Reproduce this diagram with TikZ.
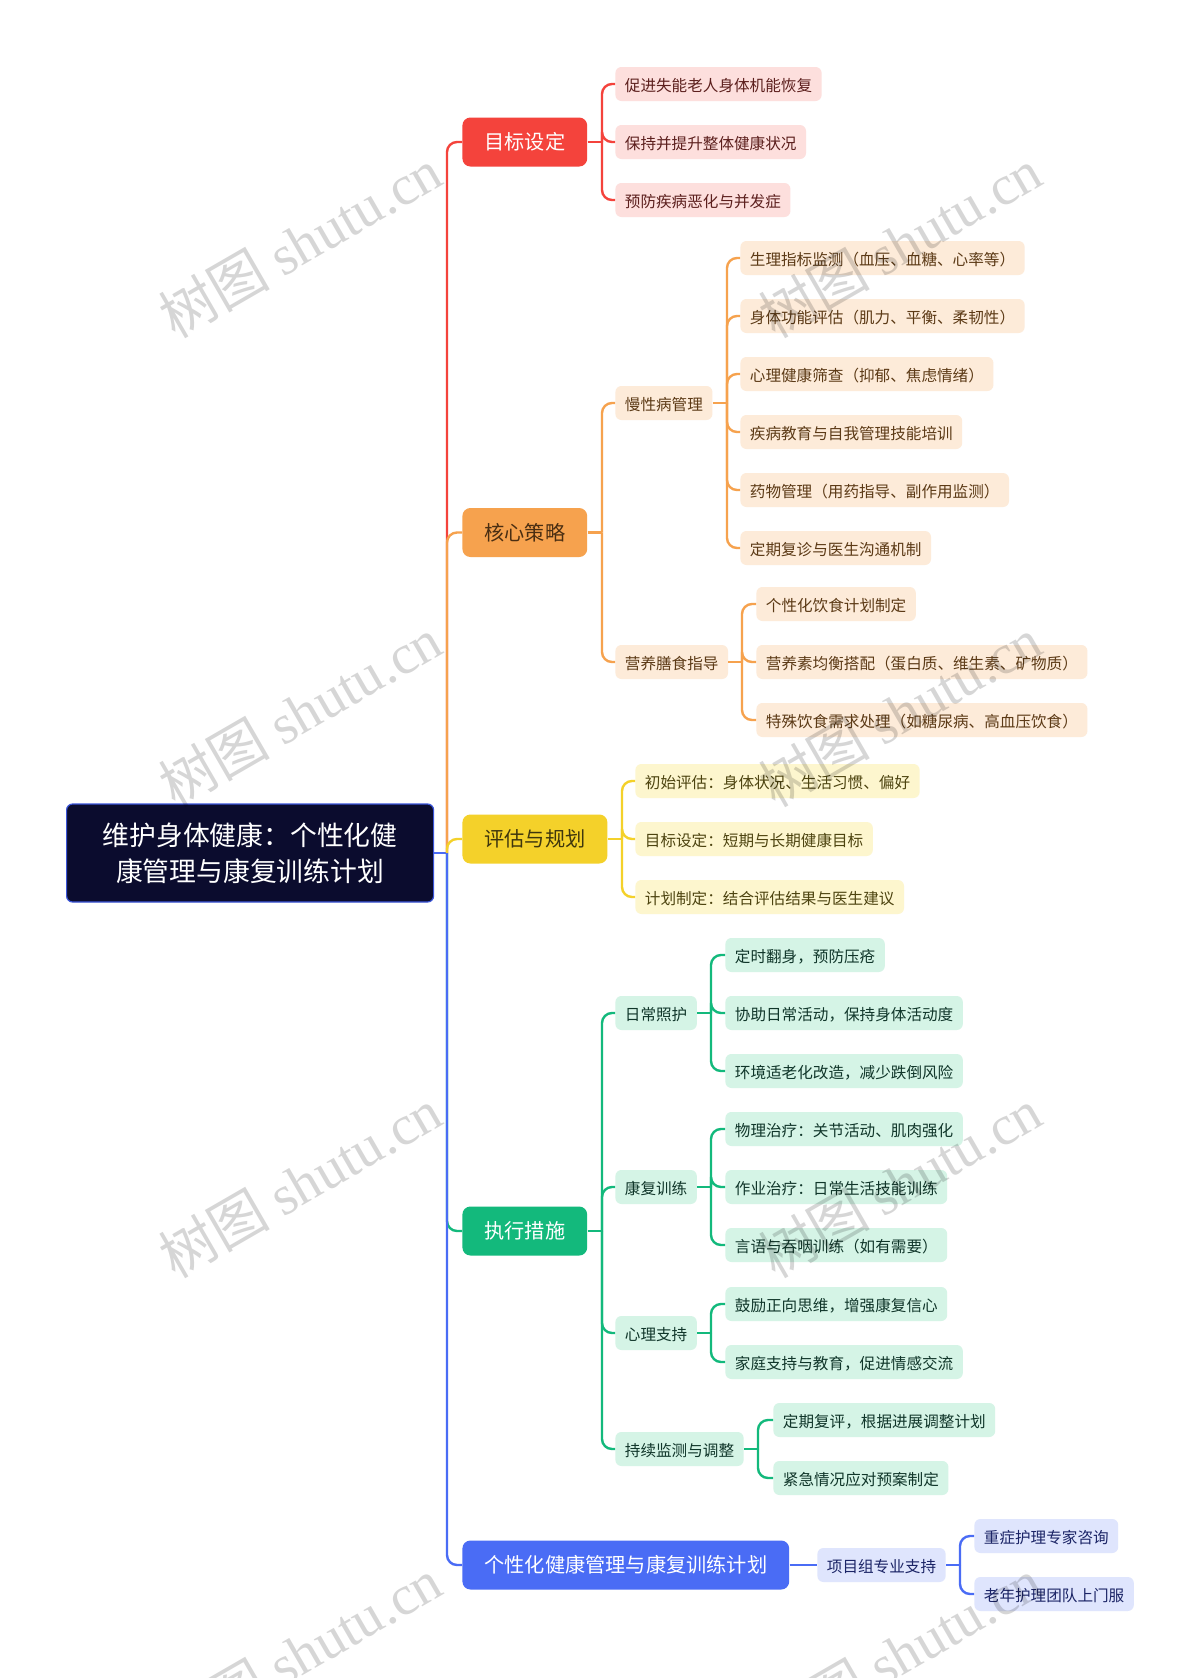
\documentclass[tikz,border=0pt]{standalone}
\usepackage{fontspec}
\setmainfont{Noto Sans CJK SC}
\newfontfamily\wmlatin{Liberation Serif}
\definecolor{rootfill}{HTML}{0B0C2E}
\definecolor{rootline}{HTML}{3B55D9}
\definecolor{redmain}{HTML}{F4433C}
\definecolor{redfill}{HTML}{FDDFDD}
\definecolor{redtext}{HTML}{5C1F1D}
\definecolor{orgmain}{HTML}{F6A24E}
\definecolor{orgfill}{HTML}{FDEBD9}
\definecolor{orgtext}{HTML}{5C3A16}
\definecolor{ylwmain}{HTML}{F4D12A}
\definecolor{ylwfill}{HTML}{FDF6CE}
\definecolor{ylwtext}{HTML}{4D4410}
\definecolor{grnmain}{HTML}{13B97C}
\definecolor{grnfill}{HTML}{D5F4E6}
\definecolor{grntext}{HTML}{10362A}
\definecolor{blumain}{HTML}{4A6CF5}
\definecolor{blufill}{HTML}{DFE5FD}
\definecolor{blutext}{HTML}{1B2466}
\tikzset{
    leaf/.style={anchor=west, rounded corners=3pt, minimum height=17pt, inner xsep=4.75pt, inner ysep=0pt,
        text height=0.86em, text depth=0.1em, font=\fontsize{7.8}{9}\selectfont},
    rleaf/.style={leaf, fill=redfill, text=redtext},
    oleaf/.style={leaf, fill=orgfill, text=orgtext},
    yleaf/.style={leaf, fill=ylwfill, text=ylwtext},
    gleaf/.style={leaf, fill=grnfill, text=grntext},
    bleaf/.style={leaf, fill=blufill, text=blutext},
    topic/.style={anchor=west, rounded corners=4pt, minimum height=24.5pt, inner xsep=11pt, inner ysep=0pt,
        text height=0.86em, text depth=0.1em, font=\fontsize{10.1}{12}\selectfont},
    link/.style={line width=1.2pt, rounded corners=5pt},
    wmark/.style={rotate=30, text=black, opacity=0.16, font=\fontsize{28}{30}\selectfont},
}

\begin{document}
\begin{tikzpicture}[x=0.5pt, y=-0.5pt]
    \fill[white] (0,0) rectangle (1200,1678);
    \useasboundingbox (0,0) rectangle (1200,1678);
    \node[anchor=west, fill=rootfill, draw=rootline, line width=0.6pt, rounded corners=3pt, minimum width=183.5pt,
        minimum height=49pt, align=center, text=white, font=\fontsize{13.4}{18}\selectfont]
        (root) at (66,853) {维护身体健康：个性化健\\康管理与康复训练计划};
    % main branches
    \node[topic, fill=redmain, text=white] (t1) at (462,142) {目标设定};
    \node[topic, fill=orgmain, text=orgtext!80!black] (t2) at (462,532.5) {核心策略};
    \node[topic, fill=ylwmain, text=ylwtext!80!black] (t3) at (462,839) {评估与规划};
    \node[topic, fill=grnmain, text=white] (t4) at (462,1231) {执行措施};
    \node[topic, fill=blumain, text=white] (t5) at (462,1565) {个性化健康管理与康复训练计划};
    \coordinate (j0) at (447,853);
    \draw[link, blumain] (root.east) -- (448,853);
    \foreach \n/\c in {t1/redmain, t2/orgmain, t3/ylwmain, t4/grnmain, t5/blumain}
        \draw[link, \c] (j0) |- (\n.west);
    % goals
    \foreach \t [count=\i] in {促进失能老人身体机能恢复, 保持并提升整体健康状况, 预防疾病恶化与并发症}
        \node[rleaf] (r\i) at (615,84+58*\i-58) {\t};
    \coordinate (jr) at (602,142);
    \draw[link, redmain] (t1.east) -- (jr);
    \foreach \i in {1,2,3}
        \draw[link, redmain] (jr) |- (r\i.west);
    % core strategies
    \node[oleaf] (o1) at (615,403) {慢性病管理};
    \node[oleaf] (o2) at (615,662) {营养膳食指导};
    \coordinate (jo) at (602,532.5);
    \draw[link, orgmain] (t2.east) -- (jo);
    \foreach \i in {1,2}
        \draw[link, orgmain] (jo) |- (o\i.west);
    \foreach \t [count=\i] in {生理指标监测（血压、血糖、心率等）, 身体功能评估（肌力、平衡、柔韧性）,
        心理健康筛查（抑郁、焦虑情绪）, 疾病教育与自我管理技能培训, 药物管理（用药指导、副作用监测）, 定期复诊与医生沟通机制}
        \node[oleaf] (oa\i) at (740,258+58*\i-58) {\t};
    \coordinate (joa) at (727,403);
    \draw[link, orgmain] (o1.east) -- (joa);
    \foreach \i in {1,...,6}
        \draw[link, orgmain] (joa) |- (oa\i.west);
    \foreach \t [count=\i] in {个性化饮食计划制定, 营养素均衡搭配（蛋白质、维生素、矿物质）, 特殊饮食需求处理（如糖尿病、高血压饮食）}
        \node[oleaf] (ob\i) at (756,604+58*\i-58) {\t};
    \coordinate (job) at (742,662);
    \draw[link, orgmain] (o2.east) -- (job);
    \foreach \i in {1,2,3}
        \draw[link, orgmain] (job) |- (ob\i.west);
    % assessment
    \foreach \t [count=\i] in {初始评估：身体状况、生活习惯、偏好, 目标设定：短期与长期健康目标, 计划制定：结合评估结果与医生建议}
        \node[yleaf] (y\i) at (635,781+58*\i-58) {\t};
    \coordinate (jy) at (622,839);
    \draw[link, ylwmain] (t3.east) -- (jy);
    \foreach \i in {1,2,3}
        \draw[link, ylwmain] (jy) |- (y\i.west);
    % measures
    \node[gleaf] (g1) at (615,1013) {日常照护};
    \node[gleaf] (g2) at (615,1187) {康复训练};
    \node[gleaf] (g3) at (615,1333) {心理支持};
    \node[gleaf] (g4) at (615,1449) {持续监测与调整};
    \coordinate (jg) at (602,1231);
    \draw[link, grnmain] (t4.east) -- (jg);
    \foreach \i in {1,...,4}
        \draw[link, grnmain] (jg) |- (g\i.west);
    \foreach \t [count=\i] in {定时翻身，预防压疮, 协助日常活动，保持身体活动度, 环境适老化改造，减少跌倒风险}
        \node[gleaf] (ga\i) at (725,955+58*\i-58) {\t};
    \foreach \t [count=\i] in {物理治疗：关节活动、肌肉强化, 作业治疗：日常生活技能训练, 言语与吞咽训练（如有需要）}
        \node[gleaf] (gb\i) at (725,1129+58*\i-58) {\t};
    \foreach \t [count=\i] in {鼓励正向思维，增强康复信心, 家庭支持与教育，促进情感交流}
        \node[gleaf] (gc\i) at (725,1304+58*\i-58) {\t};
    \foreach \t [count=\i] in {定期复评，根据进展调整计划, 紧急情况应对预案制定}
        \node[gleaf] (gd\i) at (773,1420+58*\i-58) {\t};
    \coordinate (jga) at (711,1013);
    \coordinate (jgb) at (711,1187);
    \coordinate (jgc) at (711,1333);
    \coordinate (jgd) at (758,1449);
    \draw[link, grnmain] (g1.east) -- (jga);
    \draw[link, grnmain] (g2.east) -- (jgb);
    \draw[link, grnmain] (g3.east) -- (jgc);
    \draw[link, grnmain] (g4.east) -- (jgd);
    \foreach \i in {1,2,3}{
        \draw[link, grnmain] (jga) |- (ga\i.west);
        \draw[link, grnmain] (jgb) |- (gb\i.west);
    }
    \foreach \i in {1,2}{
        \draw[link, grnmain] (jgc) |- (gc\i.west);
        \draw[link, grnmain] (jgd) |- (gd\i.west);
    }
    % plan support
    \node[bleaf] (b1) at (817,1565) {项目组专业支持};
    \draw[link, blumain] (t5.east) -- (b1.west);
    \node[bleaf] (ba1) at (974,1536) {重症护理专家咨询};
    \node[bleaf] (ba2) at (974,1594) {老年护理团队上门服};
    \coordinate (jb) at (960,1565);
    \draw[link, blumain] (b1.east) -- (jb);
    \foreach \i in {1,2}
        \draw[link, blumain] (jb) |- (ba\i.west);
    % watermarks
    \foreach \wx in {300,900}
        \foreach \wy in {243,712,1183,1653}
            \node[wmark] (wm\wx\wy) at (\wx,\wy) {树图 {\wmlatin shutu.cn}};
\end{tikzpicture}
\end{document}
